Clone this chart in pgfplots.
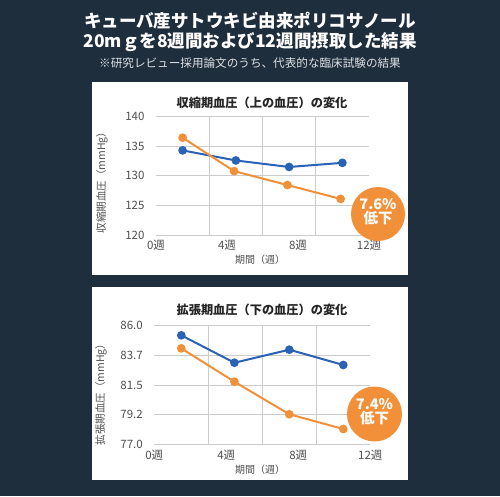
\documentclass[border=0pt]{standalone}
\usepackage{fontspec}
\setmainfont{Noto Sans CJK JP}
\usepackage{pgfplots}
\pgfplotsset{compat=1.18}
\definecolor{bg}{HTML}{1F2E3D}
\definecolor{sblue}{HTML}{2A63B6}
\definecolor{sorange}{HTML}{F2903A}
\definecolor{txtgray}{HTML}{505050}
\pgfplotsset{
  bpstyle/.style={
    anchor=south west, scale only axis,
    xmin=0, xmax=12,
    xtick={0,4,8,12}, xticklabels={0週,4週,8週,12週},
    ymajorgrids, grid style={black!20, line width=0.8pt},
    axis line style={draw=none}, major tick length=0pt,
    extra x ticks={3,6,9}, extra x tick labels={},
    extra x tick style={grid=major},
    tick label style={font=\fontsize{11.5}{12}\selectfont, text=txtgray},
    yticklabel style={xshift=-8pt},
    xticklabel style={yshift=-2pt},
    /pgf/number format/assume math mode=true,
    clip=false,
  },
  sline/.style={line width=2pt, mark=*, mark size=3.3pt},
}
\begin{document}
\begin{tikzpicture}[x=1pt,y=1pt]
\fill[bg] (0,0) rectangle (500,496);
\fill[white] (92,414) rectangle (408,221);
\fill[white] (92,209) rectangle (408,16);
\node[white,font=\fontsize{17.5}{20}\selectfont\bfseries] at (250,475) {キューバ産サトウキビ由来ポリコサノール};
\node[white,font=\fontsize{17.5}{20}\selectfont\bfseries] at (250,454) {20mｇを8週間および12週間摂取した結果};
\node[white!85!bg,font=\fontsize{11.6}{13}\selectfont] at (250,432.5) {※研究レビュー採用論文のうち、代表的な臨床試験の結果};

\begin{axis}[bpstyle, at={(156pt,261pt)}, width=213pt, height=118.3pt,
  ymin=120, ymax=140, ytick={120,125,130,135,140}]
\addplot[sline, color=sblue] coordinates {(1.5,134.3) (4.5,132.6) (7.5,131.5) (10.5,132.2)};
\addplot[sline, color=sorange] coordinates {(1.5,136.45) (4.4,130.8) (7.4,128.45) (10.4,126.1)};
\end{axis}

\begin{axis}[bpstyle, at={(154.3pt,51.7pt)}, width=216pt, height=118.6pt,
  ymin=77, ymax=86, ytick={77,79.25,81.5,83.75,86},
  yticklabels={77.0,79.2,81.5,83.7,86.0}]
\addplot[sline, color=sblue] coordinates {(1.5,85.27) (4.45,83.19) (7.5,84.18) (10.5,83.02)};
\addplot[sline, color=sorange] coordinates {(1.5,84.28) (4.45,81.75) (7.5,79.28) (10.5,78.16)};
\end{axis}

\node[black!85,font=\fontsize{12.2}{14}\selectfont\bfseries] at (262,393) {収縮期血圧（上の血圧）の変化};
\node[black!85,font=\fontsize{12.2}{14}\selectfont\bfseries] at (262,186) {拡張期血圧（下の血圧）の変化};
\node[txtgray,rotate=90,font=\fontsize{10.5}{11}\selectfont] at (102,316) {収縮期血圧（mmHg）};
\node[txtgray,rotate=90,font=\fontsize{10.5}{11}\selectfont] at (101,104) {拡張期血圧（mmHg）};
\node[txtgray,font=\fontsize{10}{11}\selectfont] at (260,236) {期間（週）};
\node[txtgray,font=\fontsize{10}{11}\selectfont] at (260,26) {期間（週）};

\fill[sorange] (378,282) circle (27);
\node[white,font=\fontsize{14.5}{15}\selectfont\bfseries,align=center] at (378,284) {7.6\%\\[-1pt]低下};
\fill[sorange] (374.5,82) circle (27.5);
\node[white,font=\fontsize{14.5}{15}\selectfont\bfseries,align=center] at (374.5,84) {7.4\%\\[-1pt]低下};
\end{tikzpicture}
\end{document}
